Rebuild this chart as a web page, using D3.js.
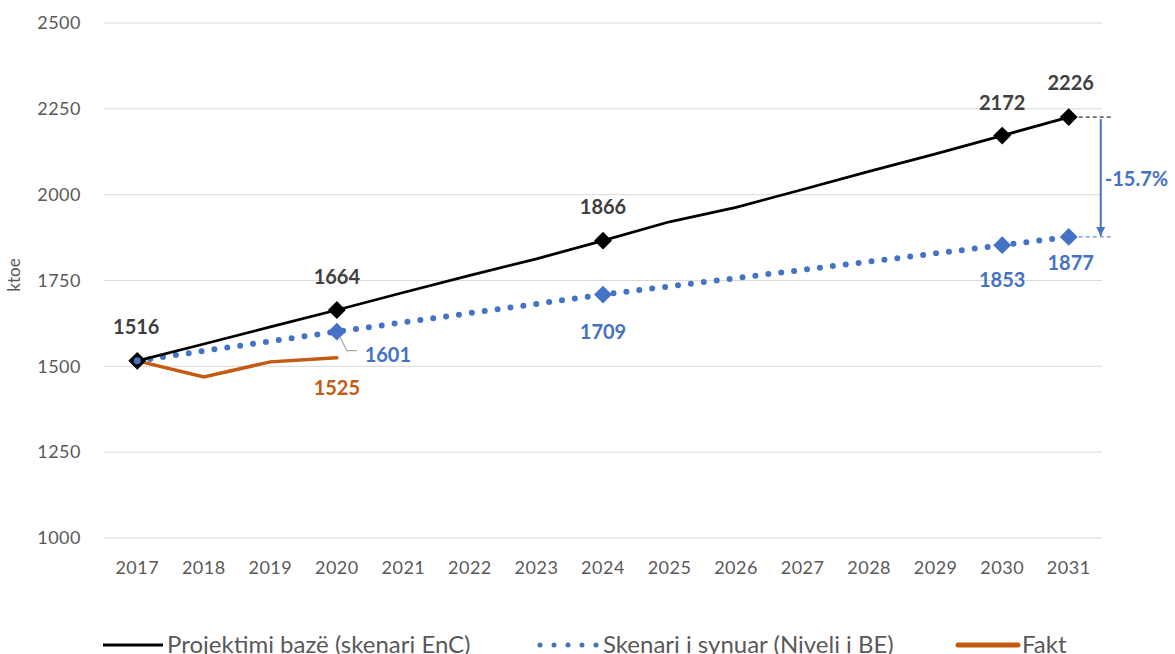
<!DOCTYPE html>
<html>
<head>
<meta charset="utf-8">
<script src="https://cdn.jsdelivr.net/npm/d3@7"></script>
<style>
  body { margin: 0; background: #fff; overflow: hidden; }
  svg { font-family: Lato, "Open Sans", sans-serif; display: block; }
</style>
</head>
<body>
<svg></svg>
<script>
let width = 1175, height = 654;

// data
let years = ["2017","2018","2019","2020","2021","2022","2023","2024","2025","2026","2027","2028","2029","2030","2031"];
let baseline = [1516, 1565, 1615, 1664, 1715, 1765, 1813, 1866, 1921, 1963, 2015, 2068, 2119, 2172, 2226];
let target = [1516, 1545, 1573, 1601, 1628, 1655, 1682, 1709, 1733, 1757, 1781, 1805, 1829, 1853, 1877];
let fakt = [1516, 1469, 1513, 1525];
let labelledYears = ["2017", "2020", "2024", "2030", "2031"];
let yTicks = [1000, 1250, 1500, 1750, 2000, 2250, 2500];
let seriesNames = ["Projektimi bazë (skenari EnC)", "Skenari i synuar (Niveli i BE)", "Fakt"];
let gapLabel = "-15.7%";

let svg = d3.select("svg")
    .attr("width", width)
    .attr("height", height);

let x = d3.scaleBand().domain(years).range([104, 1102]);
let y = d3.scaleLinear().domain([1000, 2500]).range([538, 23]);
let cx = d => x(d) + x.bandwidth() / 2;

let black = "#000000", blue = "#4472C4", orange = "#C55A11", labelGray = "#404040", axisGray = "#595959";

// gridlines
svg.append("g")
    .selectAll("line")
    .data(yTicks)
    .enter()
    .append("line")
    .attr("x1", 104)
    .attr("x2", 1102)
    .attr("y1", d => y(d))
    .attr("y2", d => y(d))
    .attr("stroke", "#d9d9d9")
    .attr("stroke-width", 1);

// y tick labels
svg.append("g")
    .selectAll("text")
    .data(yTicks)
    .enter()
    .append("text")
    .attr("x", 81)
    .attr("y", d => y(d))
    .attr("dy", "0.35em")
    .attr("text-anchor", "end")
    .attr("fill", axisGray)
    .style("font-size", "18px")
    .style("letter-spacing", "0.5px")
    .text(d => d);

// x tick labels
svg.append("g")
    .selectAll("text")
    .data(years)
    .enter()
    .append("text")
    .attr("x", d => cx(d))
    .attr("y", 568)
    .attr("dy", "0.35em")
    .attr("text-anchor", "middle")
    .attr("fill", axisGray)
    .style("font-size", "18px")
    .style("letter-spacing", "0.5px")
    .text(d => d);

// y axis title
svg.append("text")
    .attr("transform", "translate(20,275) rotate(-90)")
    .attr("text-anchor", "middle")
    .attr("fill", axisGray)
    .style("font-size", "17px")
    .text("ktoe");

let line = d3.line()
    .x((d, i) => cx(years[i]))
    .y(d => y(d));

// target (dotted)
svg.append("path")
    .datum(target)
    .attr("d", line)
    .attr("fill", "none")
    .attr("stroke", blue)
    .attr("stroke-width", 6)
    .attr("stroke-linecap", "round")
    .attr("stroke-dasharray", "0 13");

// baseline
svg.append("path")
    .datum(baseline)
    .attr("d", line)
    .attr("fill", "none")
    .attr("stroke", black)
    .attr("stroke-width", 2.75);

// fakt
svg.append("path")
    .datum(fakt)
    .attr("d", line)
    .attr("fill", "none")
    .attr("stroke", orange)
    .attr("stroke-width", 3.5)
    .attr("stroke-linecap", "round");

let diamondPath = d3.symbol().type(d3.symbolSquare).size(160);

// baseline markers
svg.append("g")
    .selectAll("path")
    .data(labelledYears)
    .enter()
    .append("path")
    .attr("d", diamondPath)
    .attr("transform", d => "translate(" + cx(d) + "," + y(baseline[years.indexOf(d)]) + ") rotate(45)")
    .attr("fill", black);

// target markers (not at 2017)
svg.append("g")
    .selectAll("path")
    .data(labelledYears.slice(1))
    .enter()
    .append("path")
    .attr("d", diamondPath)
    .attr("transform", d => "translate(" + cx(d) + "," + y(target[years.indexOf(d)]) + ") rotate(45)")
    .attr("fill", blue);

// blue dot inside 2017 marker
svg.append("circle")
    .attr("cx", cx("2017"))
    .attr("cy", y(target[0]))
    .attr("r", 3.5)
    .attr("fill", blue);

// baseline labels
let baseOffsets = { "2017": [-1, -34], "2020": [0, -33], "2024": [0, -34], "2030": [0, -33], "2031": [2, -34] };
svg.append("g")
    .selectAll("text")
    .data(labelledYears)
    .enter()
    .append("text")
    .attr("x", d => cx(d) + baseOffsets[d][0])
    .attr("y", d => y(baseline[years.indexOf(d)]) + baseOffsets[d][1])
    .attr("dy", "0.35em")
    .attr("text-anchor", "middle")
    .attr("fill", labelGray)
    .style("font-size", "20px")
    .style("font-weight", "bold")
    .text(d => baseline[years.indexOf(d)]);

// target labels
let targetOffsets = { "2020": [51, 23], "2024": [0, 37], "2030": [0, 35], "2031": [2, 26] };
svg.append("g")
    .selectAll("text")
    .data(labelledYears.slice(1))
    .enter()
    .append("text")
    .attr("x", d => cx(d) + targetOffsets[d][0])
    .attr("y", d => y(target[years.indexOf(d)]) + targetOffsets[d][1])
    .attr("dy", "0.35em")
    .attr("text-anchor", "middle")
    .attr("fill", blue)
    .style("font-size", "20px")
    .style("font-weight", "bold")
    .text(d => target[years.indexOf(d)]);

// leader line for 1601
let p20 = [cx("2020"), y(target[3])];
svg.append("path")
    .attr("d", "M" + (p20[0] + 3) + "," + (p20[1] + 5) + " L" + (p20[0] + 10) + "," + (p20[1] + 19) + " L" + (p20[0] + 20) + "," + (p20[1] + 19))
    .attr("fill", "none")
    .attr("stroke", "#a6a6a6")
    .attr("stroke-width", 1.2);

// fakt label
svg.append("text")
    .attr("x", cx("2020"))
    .attr("y", y(fakt[3]) + 30)
    .attr("dy", "0.35em")
    .attr("text-anchor", "middle")
    .attr("fill", orange)
    .style("font-size", "20px")
    .style("font-weight", "bold")
    .text(fakt[3]);

// gap annotation
let xEnd = cx("2031");
let yTop = y(baseline[14]), yBot = y(target[14]);
svg.append("line")
    .attr("x1", xEnd + 10).attr("x2", xEnd + 44)
    .attr("y1", yTop).attr("y2", yTop)
    .attr("stroke", black).attr("stroke-width", 1)
    .attr("stroke-dasharray", "4 3");
svg.append("line")
    .attr("x1", xEnd + 10).attr("x2", xEnd + 44)
    .attr("y1", yBot).attr("y2", yBot)
    .attr("stroke", blue).attr("stroke-width", 1)
    .attr("stroke-dasharray", "4 3");

svg.append("defs").append("marker")
    .attr("id", "arrow")
    .attr("viewBox", "0 0 10 10")
    .attr("refX", 10)
    .attr("refY", 5)
    .attr("markerWidth", 4.5)
    .attr("markerHeight", 4.5)
    .attr("orient", "auto")
    .append("path")
    .attr("d", "M0,0 L10,5 L0,10 z")
    .attr("fill", blue);

svg.append("line")
    .attr("x1", xEnd + 32).attr("x2", xEnd + 32)
    .attr("y1", yTop + 2).attr("y2", yBot - 1)
    .attr("stroke", blue).attr("stroke-width", 2)
    .attr("marker-end", "url(#arrow)");

svg.append("text")
    .attr("x", xEnd + 36)
    .attr("y", (yTop + yBot) / 2 + 2)
    .attr("dy", "0.35em")
    .attr("fill", blue)
    .style("font-size", "20px")
    .style("font-weight", "bold")
    .text(gapLabel);

// legend (runs off the bottom edge, as in the original)
let legendX = [103, 538, 958];
let legend = svg.append("g");
seriesNames.forEach((name, i) => {
    let lx = legendX[i], ly = 645;
    let l = legend.append("line")
        .attr("x1", lx).attr("x2", lx + 60)
        .attr("y1", ly).attr("y2", ly)
        .attr("fill", "none");
    if (i == 0) l.attr("stroke", black).attr("stroke-width", 3);
    if (i == 1) l.attr("x1", lx + 2).attr("x2", lx + 59).attr("stroke", blue).attr("stroke-width", 5).attr("stroke-linecap", "round").attr("stroke-dasharray", "0 14");
    if (i == 2) l.attr("stroke", orange).attr("stroke-width", 5).attr("stroke-linecap", "round");
    legend.append("text")
        .attr("x", lx + (i == 1 ? 65 : 64))
        .attr("y", 653)
        .attr("fill", axisGray)
        .style("font-size", "24px")
        .text(name);
});
</script>
</body>
</html>
